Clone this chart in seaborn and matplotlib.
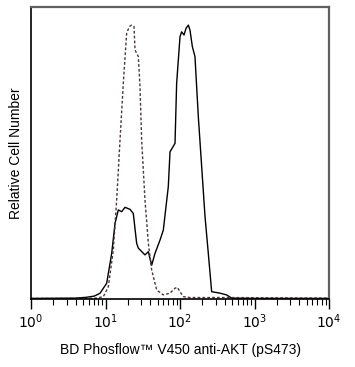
import numpy as np
import pandas as pd
import matplotlib
matplotlib.use('Agg')
import matplotlib.pyplot as plt
import seaborn as sns

# stained sample (solid), log10 fluorescence vs relative count (%)
stained_log = [0.0, 0.60, 0.75, 0.85, 0.926, 1.016, 1.083, 1.128, 1.172, 1.217, 1.262, 1.329,
               1.373, 1.418, 1.441, 1.530, 1.575, 1.620, 1.664, 1.732, 1.776, 1.843, 1.866,
               1.933, 1.955, 2.0, 2.022, 2.054, 2.081, 2.112, 2.134, 2.166, 2.201, 2.246,
               2.291, 2.336, 2.380, 2.425, 2.537, 2.626, 2.694, 3.0, 4.0]
stained_cnt = [0.2, 0.3, 0.6, 1.0, 1.95, 5.4, 15.6, 25.9, 30.5, 29.9, 31.4, 30.7,
               29.3, 19.1, 17.4, 15.1, 16.2, 11.6, 15.6, 20.2, 23.6, 38.5, 50.4,
               53.3, 73.9, 89.8, 91.5, 90.4, 92.7, 93.8, 92.1, 86.4, 83.0, 62.4,
               45.3, 28.2, 15.6, 2.5, 2.0, 1.4, 0.3, 0.2, 0.2]

# unstained / isotype control (dashed)
control_log = [0.0, 0.70, 0.881, 0.971, 1.038, 1.105, 1.150, 1.195, 1.239, 1.284, 1.320, 1.351,
               1.383, 1.396, 1.441, 1.463, 1.485, 1.530, 1.575, 1.620, 1.687, 1.776,
               1.866, 1.933, 1.964, 2.0, 2.045, 2.134, 2.67, 4.0]
control_cnt = [0.2, 0.2, 0.3, 0.8, 4.2, 16.8, 33.9, 54.5, 73.9, 91.0, 93.3, 93.8,
               93.3, 85.3, 83.0, 72.7, 54.5, 33.9, 19.1, 9.9, 3.1, 1.4,
               2.0, 3.7, 4.0, 2.5, 0.8, 0.5, 0.5, 0.3]

df = pd.concat([
    pd.DataFrame({'fl': np.power(10.0, stained_log), 'cnt': stained_cnt, 'sample': 'AKT'}),
    pd.DataFrame({'fl': np.power(10.0, control_log), 'cnt': control_cnt, 'sample': 'ctrl'}),
])

sns.set_style('white')
plt.rcParams['font.family'] = ['Liberation Sans', 'DejaVu Sans']
plt.rcParams['text.color'] = 'black'
plt.rcParams['axes.labelcolor'] = 'black'
plt.rcParams['xtick.color'] = 'black'

fig = plt.figure(figsize=(3.55, 3.67), dpi=100)
ax = fig.add_axes([31/355, 1-299/367, 298/355, 292/367])

sns.lineplot(data=df[df['sample'] == 'AKT'], x='fl', y='cnt', color='black', lw=1.0,
             ax=ax, sort=False, estimator=None)
sns.lineplot(data=df[df['sample'] == 'ctrl'], x='fl', y='cnt', color='#4a3838', lw=1.0,
             linestyle=(0, (2, 1.5)), ax=ax, sort=False, estimator=None)

ax.set_xscale('log')
ax.set_xlim(1, 1e4)
ax.set_ylim(0, 100)
ax.set_yticks([])
ax.set_xticks([1, 10, 100, 1000, 10000])
ax.set_xticklabels(['$10^0$', '$10^1$', '$10^2$', '$10^3$', '$10^4$'])
ax.tick_params(axis='x', which='major', direction='out', length=7, width=1, labelsize=10,
               bottom=True, pad=3, color='black', labelcolor='black')
ax.tick_params(axis='x', which='minor', direction='out', length=4, width=0.8,
               bottom=True, color='black')
ax.xaxis.set_minor_locator(matplotlib.ticker.LogLocator(base=10, subs=np.arange(2, 10)))

for s in ['left', 'bottom']:
    ax.spines[s].set_color('black')
    ax.spines[s].set_linewidth(1.2)
for s in ['top', 'right']:
    ax.spines[s].set_color('#606060')
    ax.spines[s].set_linewidth(1.6)

ax.set_xlabel('BD Phosflow\u2122 V450 anti-AKT (pS473)', fontsize=10, labelpad=8, color='black')
ax.set_ylabel('Relative Cell Number', fontsize=10, labelpad=6, color='black')

fig.savefig('out.png', dpi=100)
